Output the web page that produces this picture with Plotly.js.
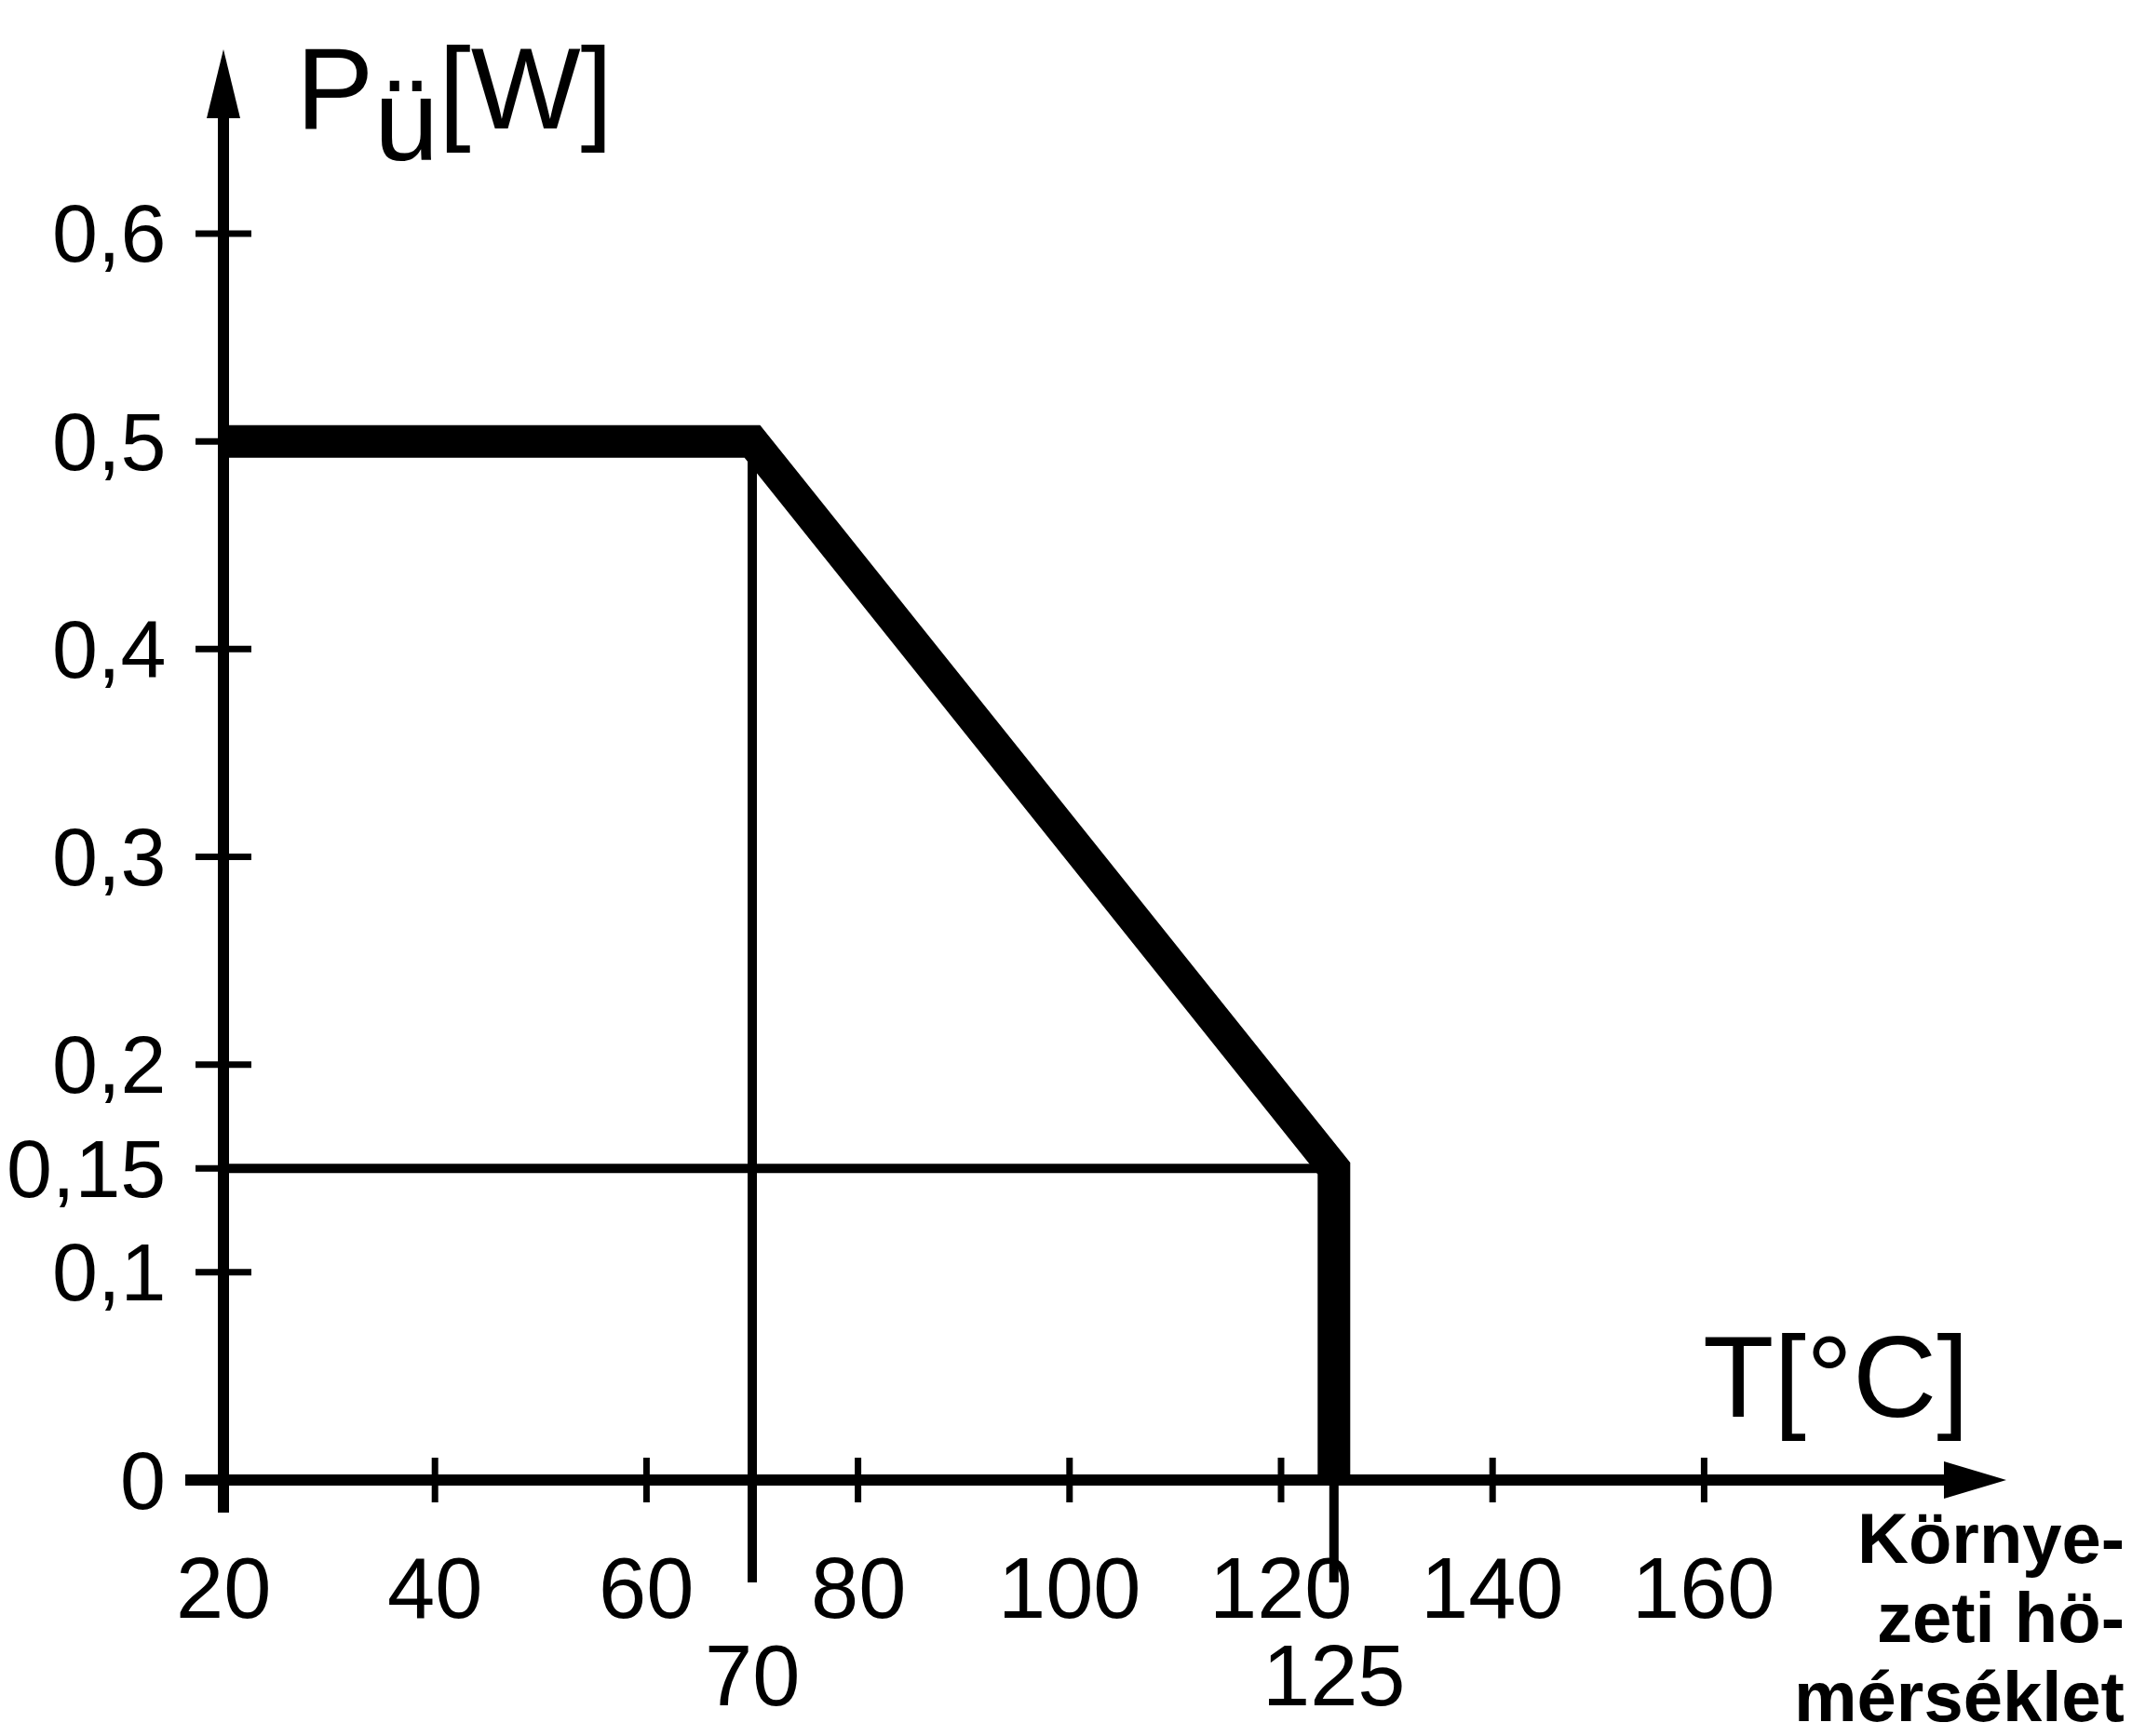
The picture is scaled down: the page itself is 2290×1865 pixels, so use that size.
<!DOCTYPE html>
<html><head><meta charset="utf-8">
<script src="https://cdn.plot.ly/plotly-3.0.1.min.js"></script>
<style>html,body{margin:0;padding:0;background:#fff;}#chart{width:2290px;height:1865px;}</style>
</head><body><div id="chart"></div>
<script>
// ---- data ----
const curveT = [20, 70, 125, 125];          // derating curve, temperature [°C]
const curveP = [0.5, 0.5, 0.15, 0];         // derating curve, power [W]
const markT = [70, 125];                    // marked temperatures
const markP = [0.5, 0.15];                  // power at marked temperatures
const markTText = ['70', '125'];
const xTickVals = [20, 40, 60, 80, 100, 120, 140, 160];
const xTickText = ['20', '40', '60', '80', '100', '120', '140', '160'];
const yTickVals = [0, 0.1, 0.15, 0.2, 0.3, 0.4, 0.5, 0.6];
const yTickText = ['0', '0,1', '0,15', '0,2', '0,3', '0,4', '0,5', '0,6'];
const yTitle = 'P<span style="baseline-shift:-34px">ü</span>[W]';
const xTitle = 'T[°C]';
const xCaption = ['Környe-', 'zeti hö-', 'mérséklet'];

// ---- layout helpers ----
const W = 2290, H = 1865;
const xRange = [-1.127, 200.458];
const yRange = [-0.12322, 0.71246];
const pxX = W / (xRange[1] - xRange[0]);
const pxY = H / (yRange[1] - yRange[0]);
const originT = xTickVals[0], originP = yTickVals[0];
const xAxisStart = originT - 41 / pxX, xAxisTip = originT + 1915 / pxX;
const yAxisStart = originP - 35 / pxY, yAxisTip = originP + 1537 / pxY;
const dropTo = originP - 110 / pxY;
const FONT = 'Liberation Sans, Arial, sans-serif';
const K = '#000';

const traces = [];
function seg(xs, ys, w) {
  traces.push({x: xs, y: ys, mode: 'lines', line: {color: K, width: w}, hoverinfo: 'skip', showlegend: false});
}
// axes
seg([xAxisStart, xAxisTip - 40 / pxX], [originP, originP], 12);
seg([originT, originT], [yAxisStart, yAxisTip - 50 / pxY], 12);
// crossing ticks
const tx = [], ty = [];
xTickVals.forEach(v => { tx.push(v, v, null); ty.push(originP - 24 / pxY, originP + 24 / pxY, null); });
yTickVals.filter(v => v !== originP).forEach(v => { tx.push(originT - 30 / pxX, originT + 30 / pxX, null); ty.push(v, v, null); });
seg(tx, ty, 7);
// guide lines
markT.forEach((t, i) => {
  seg([t, t], [markP[i], dropTo], 10);
  seg([originT, t], [markP[i], markP[i]], 10);
});
// main curve
seg(curveT, curveP, 35);

const ann = [];
xTickVals.forEach((v, i) => ann.push({x: v, y: originP, xref: 'x', yref: 'y', text: xTickText[i], showarrow: false,
  xanchor: 'center', yanchor: 'middle', yshift: -116, font: {family: FONT, size: 92, color: K}}));
markT.forEach((v, i) => ann.push({x: v, y: originP, xref: 'x', yref: 'y', text: markTText[i], showarrow: false,
  xanchor: 'center', yanchor: 'middle', yshift: -210, font: {family: FONT, size: 92, color: K}}));
yTickVals.forEach((v, i) => ann.push({x: originT, y: v, xref: 'x', yref: 'y', text: yTickText[i], showarrow: false,
  xanchor: 'right', yanchor: 'middle', xshift: -60, font: {family: FONT, size: 88, color: K}}));
ann.push({x: 316 / W, y: 1 - 112 / H, xref: 'paper', yref: 'paper', text: yTitle, showarrow: false,
  xanchor: 'left', yanchor: 'middle', font: {family: FONT, size: 125, color: K}});
ann.push({x: 1972 / W, y: 1 - 1478 / H, xref: 'paper', yref: 'paper', text: xTitle, showarrow: false,
  xanchor: 'center', yanchor: 'middle', font: {family: FONT, size: 125, color: K}});
const capY = [1652, 1737, 1822];
xCaption.forEach((s, i) => ann.push({x: 2284 / W, y: 1 - capY[i] / H, xref: 'paper', yref: 'paper', text: s, showarrow: false,
  xanchor: 'right', yanchor: 'middle', font: {family: FONT, size: 76, color: K, weight: 'bold'}}));

const shapes = [
  {type: 'path', xref: 'x', yref: 'y', xsizemode: 'pixel', ysizemode: 'pixel', xanchor: xAxisTip, yanchor: originP,
   path: 'M0,0 L-67,20 L-67,-20 Z', fillcolor: K, line: {width: 0}},
  {type: 'path', xref: 'x', yref: 'y', xsizemode: 'pixel', ysizemode: 'pixel', xanchor: originT, yanchor: yAxisTip,
   path: 'M0,0 L-18,-74 L18,-74 Z', fillcolor: K, line: {width: 0}}
];

const layout = {
  width: W, height: H, margin: {l: 0, r: 0, t: 0, b: 0, pad: 0},
  paper_bgcolor: '#fff', plot_bgcolor: '#fff', showlegend: false,
  xaxis: {range: xRange, visible: false, fixedrange: true},
  yaxis: {range: yRange, visible: false, fixedrange: true},
  annotations: ann, shapes: shapes
};
Plotly.newPlot('chart', traces, layout, {staticPlot: true, displayModeBar: false});
</script></body></html>
